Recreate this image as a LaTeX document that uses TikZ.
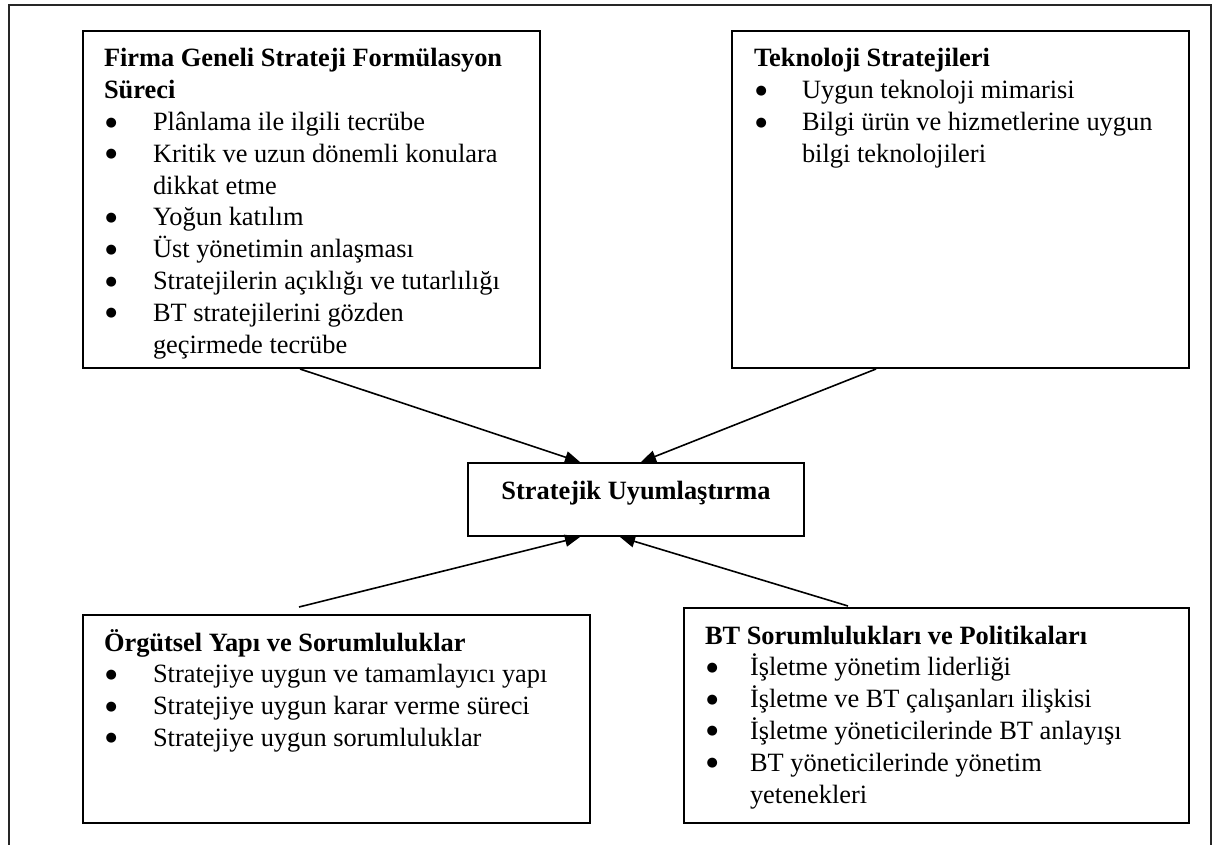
\documentclass[tikz,border=0pt]{standalone}
\usepackage{fontspec}
\setmainfont{Liberation Serif}
\newfontfamily\dotfont{DejaVu Sans}
\usetikzlibrary{arrows.meta,calc}

% round list mark
\newcommand\listdot{\hspace{1.5pt}\raisebox{4.5pt}{\fontsize{13}{13}\dotfont ●}}
% bullet item with hanging indent #1
\newcommand\bul[2]{\par\hangindent=#1\hangafter=1\noindent\makebox[#1][l]{\listdot}#2}
% top-aligned box body: width, height, left padding, content
\newcommand\boxbody[4]{\parbox[c][#2][t]{#1}{\parindent=0pt\leftskip=#3\rightskip=0pt plus 1fil\rule{0pt}{36pt}#4\par}}

\begin{document}
\begin{tikzpicture}[x=1pt,y=-1pt,
  every node/.style={font=\fontsize{26.4}{31.8}\selectfont},
  panel/.style={draw, line width=2pt, inner sep=0pt, anchor=north west},
  link/.style={line width=1.6pt, -{Triangle[length=15pt,width=12pt]}},
  frame/.style={line width=1.5pt, draw=black!85}]
\useasboundingbox (0,0) rectangle (1217,845);

% open outer frame
\draw[frame] (9,845) -- (9,5) -- (1211,5) -- (1211,845);

\node[panel] (firm) at (82,30) {\boxbody{457pt}{337pt}{21pt}{%
  \textbf{Firma Geneli Strateji Formülasyon\\Süreci}
  \bul{49pt}{Plânlama ile ilgili tecrübe}
  \bul{49pt}{Kritik ve uzun dönemli konulara\\dikkat etme}
  \bul{49pt}{Yoğun katılım}
  \bul{49pt}{Üst yönetimin anlaşması}
  \bul{49pt}{Stratejilerin açıklığı ve tutarlılığı}
  \bul{49pt}{BT stratejilerini gözden\\geçirmede tecrübe}}};

\node[panel] (tech) at (731,30) {\boxbody{457pt}{337pt}{22pt}{%
  \textbf{Teknoloji Stratejileri}
  \bul{48pt}{Uygun teknoloji mimarisi}
  \bul{48pt}{Bilgi ürün ve hizmetlerine uygun\\bilgi teknolojileri}}};

\node[panel] (align) at (467,462) {\parbox[c][73pt][t]{336pt}{\centering\rule{0pt}{36pt}\textbf{Stratejik Uyumlaştırma}\par}};

\node[panel] (org) at (82,614) {\boxbody{507pt}{208pt}{21pt}{%
  \textbf{Örgütsel Yapı ve Sorumluluklar}
  \bul{49pt}{Stratejiye uygun ve tamamlayıcı yapı}
  \bul{49pt}{Stratejiye uygun karar verme süreci}
  \bul{49pt}{Stratejiye uygun sorumluluklar}}};

\node[panel] (it) at (683,607) {\boxbody{505pt}{215pt}{21pt}{%
  \textbf{BT Sorumlulukları ve Politikaları}
  \bul{45pt}{İşletme yönetim liderliği}
  \bul{45pt}{İşletme ve BT çalışanları ilişkisi}
  \bul{45pt}{İşletme yöneticilerinde BT anlayışı}
  \bul{45pt}{BT yöneticilerinde yönetim\\yetenekleri}}};

% connectors into the central box
\draw[link] ($(firm.south west)+(218,0)$) -- ($(align.north west)+(113,0)$);
\draw[link] ($(tech.south west)+(145,0)$) -- ($(align.north west)+(174,0)$);
\draw[link] ($(org.north west)+(217,-7)$) -- ($(align.south west)+(113,0)$);
\draw[link] ($(it.north west)+(165,-1)$) -- ($(align.south west)+(153,0)$);
\end{tikzpicture}
\end{document}
